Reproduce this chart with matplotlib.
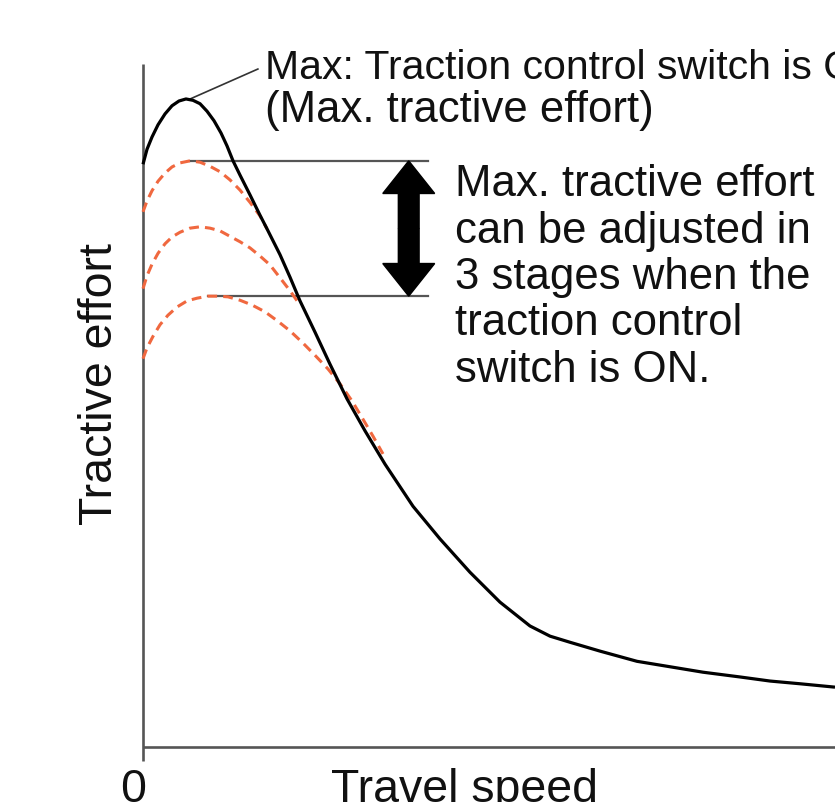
import numpy as np
import matplotlib
matplotlib.use("Agg")
import matplotlib.pyplot as plt

plt.rcParams['font.family'] = ['Liberation Sans', 'DejaVu Sans']

# ---- data (arbitrary units 0..100) ----
max_x = [0, 0.58, 1.30, 2.17, 3.18, 4.19, 5.20, 6.21, 7.23, 8.24, 9.25, 10.26, 11.27,
         12.14, 13.01, 14.02, 15.46, 16.91, 17.92, 19.80, 21.24, 22.69, 24.86, 27.02,
         29.48, 32.08, 34.97, 39.02, 42.92, 47.25, 51.59, 55.92, 58.82, 61.71, 66.04,
         71.39, 76.16, 80.92, 86.27, 90.61, 94.94, 100]
max_y = [85.7, 87.9, 89.7, 91.5, 93.1, 94.3, 95.0, 95.3, 95.1, 94.6, 93.5, 92.1, 90.3,
         88.4, 86.2, 84.1, 81.2, 78.2, 76.2, 72.4, 69.1, 65.6, 61.0, 56.3,
         51.2, 46.5, 41.6, 35.4, 30.6, 25.7, 21.3, 17.8, 16.3, 15.4, 14.1,
         12.6, 11.8, 11.0, 10.3, 9.7, 9.3, 8.8]

stage1_x = [0, 0.58, 1.30, 2.17, 3.18, 4.19, 5.35, 6.79, 8.24, 9.68, 11.13, 12.57,
            14.02, 15.46, 16.91, 17.92]
stage1_y = [78.7, 80.3, 81.8, 83.2, 84.4, 85.3, 85.9, 86.2, 86.0, 85.4, 84.6, 83.4,
            81.9, 80.1, 78.1, 76.2]

stage2_x = [0, 0.58, 1.30, 2.17, 3.18, 4.19, 5.35, 6.79, 8.24, 9.68, 11.13, 12.57,
            14.02, 15.46, 16.91, 18.35, 19.80, 21.24, 22.69]
stage2_y = [67.4, 69.3, 71.0, 72.6, 74.0, 75.0, 75.7, 76.3, 76.5, 76.3, 75.9, 75.1,
            74.3, 73.4, 72.2, 70.9, 69.0, 67.1, 65.0]

stage3_x = [0, 0.58, 1.45, 2.46, 3.61, 4.91, 6.36, 7.80, 9.39, 10.84, 12.28, 14.02,
            15.75, 17.63, 19.51, 21.24, 23.12, 24.86, 26.73, 28.47, 30.20, 31.79,
            33.24, 34.68]
stage3_y = [57.1, 58.7, 60.4, 62.1, 63.5, 64.7, 65.6, 66.0, 66.3, 66.3, 66.2, 65.7,
            65.0, 64.0, 62.6, 61.2, 59.4, 57.6, 55.6, 53.4, 50.9, 48.2,
            45.7, 43.1]

x_label = "Travel speed"
y_label = "Tractive effort"
top_note = ["Max: Traction control switch is ON", "(Max. tractive effort)"]
side_note = ["Max. tractive effort", "can be adjusted in", "3 stages when the",
             "traction control", "switch is ON."]

# ---- figure ----
W, H = 835, 803
fig = plt.figure(figsize=(W / 100, H / 100), dpi=100)
fig.patch.set_facecolor("white")
ax = fig.add_axes([143 / W, 55 / H, 692 / W, 680 / H])
ax.set_xlim(0, 100)
ax.set_ylim(0, 100)
ax.axis("off")

axis_col = "#555555"
orange = "#F0683F"

# axes lines
ax.plot([0, 0], [-2.1, 100.5], color=axis_col, lw=1.9, clip_on=False, solid_capstyle="butt")
ax.plot([0, 101], [0, 0], color=axis_col, lw=1.9, clip_on=False, solid_capstyle="butt")

# dashed stage curves
for xs, ys in [(stage1_x, stage1_y), (stage2_x, stage2_y), (stage3_x, stage3_y)]:
    ax.plot(xs, ys, color=orange, lw=2.2, dashes=(3.2, 2.0), clip_on=False,
            solid_joinstyle="round", dash_joinstyle="round", zorder=2)

# max curve
ax.plot(max_x, max_y, color="black", lw=2.3, clip_on=False, zorder=3,
        solid_joinstyle="round", solid_capstyle="butt")

# reference lines at the highest and lowest stage peaks
line_end_x = 41.2
for xs, ys in [(stage1_x, stage1_y), (stage3_x, stage3_y)]:
    i = int(np.argmax(ys))
    ax.plot([xs[i], line_end_x], [ys[i], ys[i]], color=axis_col, lw=1.6, zorder=1)

# double-headed arrow
arrow_x = 38.4
top_y = max(stage1_y)
bot_y = max(stage3_y)
mid = (top_y + bot_y) / 2
for target in (top_y, bot_y):
    ax.arrow(arrow_x, mid, 0, target - mid, width=3.0, head_width=7.5,
             head_length=4.8, length_includes_head=True, color="black", zorder=4)

# leader line from the max peak to the note
ipk = int(np.argmax(max_y))
ax.plot([max_x[ipk] + 0.6, 16.6], [max_y[ipk], 99.7], color="#333333", lw=1.2,
        clip_on=False)

def ftext(px, py, s, **kw):
    fig.text(px / W, 1 - py / H, s, **kw)

fs_note = 31.5
ftext(265, 79, top_note[0], fontsize=29.5, va="baseline", ha="left", color="#111111")
ftext(265, 122, top_note[1], fontsize=fs_note, va="baseline", ha="left", color="#111111")

for k, line in enumerate(side_note):
    ftext(455, 196 + k * 46.5, line, fontsize=fs_note, va="baseline", ha="left",
          color="#111111")

ftext(112, 384, y_label, fontsize=33.5, rotation=90, va="baseline", ha="center",
      color="#111111", rotation_mode="anchor")
ftext(465, 802, x_label, fontsize=33.5, va="baseline", ha="center", color="#111111")
ftext(133, 802, "0", fontsize=33.5, va="baseline", ha="center", color="#111111")

fig.savefig("out.png", dpi=100)
